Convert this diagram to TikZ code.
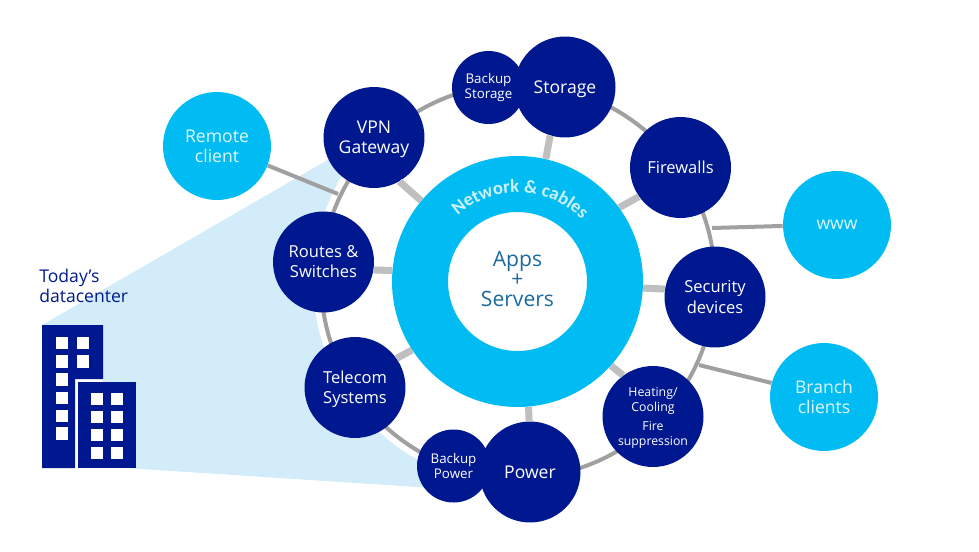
\documentclass[tikz,border=0pt]{standalone}
\usepackage{fontspec}
\setmainfont{Open Sans}
\newfontfamily\ringfont{Carlito}
\usetikzlibrary{calc, decorations.text}
\definecolor{navyblue}{HTML}{00188F}
\definecolor{cyanblue}{HTML}{00BCF2}
\definecolor{wedgeblue}{HTML}{D2ECF9}
\definecolor{ringgray}{HTML}{A0A0A0}
\definecolor{spokegray}{HTML}{BFBFBF}
\definecolor{appsblue}{HTML}{1C6A9C}
\begin{document}
\begin{tikzpicture}[
    x=0.02cm, y=-0.02cm,
    hub/.style={circle, inner sep=0pt, align=center, text=white, fill=navyblue, minimum size=2.02cm},
    smallhub/.style={hub, minimum size=1.46cm, font=\fontsize{7.6}{9}\selectfont},
    site/.style={hub, fill=cyanblue, text=white!88!cyanblue, minimum size=2.16cm},
    big/.style={font=\fontsize{10}{11.4}\selectfont},
    mid/.style={font=\fontsize{9.4}{11.4}\selectfont},
    lowtext/.style={text depth=0pt},
    spoke/.style={line width=0.14cm, spokegray},
    link/.style={line width=0.08cm, ringgray},
    window/.style={rectangle, inner sep=0pt, fill=white, minimum size=0.245cm}
]
\useasboundingbox (0,0) rectangle (979,551);

% Wedge to the datacenter
\fill[wedgeblue] (42,325) -- (350,147) -- (518,281) -- (440,488.5) -- (42,462.5) -- cycle;
\fill[white] (518,281) circle (4.1cm);

% Ring and spokes
\node[circle, inner sep=0pt, minimum size=5.02cm] (ring) at (517.5,281.5) {};
\node[circle, inner sep=0pt, minimum size=2.78cm] (core) at (517.5,281.5) {};
\draw[link] (518,281) circle (3.94cm);

% Nodes around the ring
\node[hub, big, lowtext] (storage) at (565,87) {Storage};
\node[smallhub] (backupstorage) at (488.5,87.5) {Backup\\Storage};
\node[hub, big, lowtext] (vpn) at (374,137.5) {VPN\\Gateway};
\node[hub, mid] (firewalls) at (680.5,167.5) {Firewalls};
\node[hub, mid] (routes) at (323.5,262) {Routes \&\\Switches};
\node[hub, mid] (security) at (715,297) {Security\\devices};
\node[hub, mid, lowtext] (telecom) at (355,387.5) {Telecom\\Systems};
\node[hub, lowtext, font=\fontsize{7}{8.2}\selectfont] (heating) at (653,416.5) {Heating/\\Cooling\\[3pt]Fire\\suppression};
\node[hub, big] (power) at (530,472) {Power};
\node[smallhub] (backuppower) at (453.5,466) {Backup\\Power};

% Outside sites
\node[site, big] (remote) at (217,146) {Remote\\client};
\node[site, big] (www) at (837,225) {www};
\node[site, big] (branch) at (824,397) {Branch\\clients};
\coordinate (remotejoin) at (338,194);
\coordinate (wwwjoin) at (712,228);
\coordinate (branchjoin) at (699,365);

% Spokes
\draw[spoke] (vpn.-60) -- (ring.140);
\draw[spoke] (storage.-107) -- (ring.77);
\draw[spoke] (firewalls.-145) -- (ring.36);
\draw[spoke] (security.171) -- (ring.-3);
\draw[spoke] (heating.126) -- (ring.-42);
\draw[spoke] (power.91) -- (ring.-85);
\draw[spoke] (telecom.35) -- (ring.-147);
\draw[spoke] (routes.-9) -- (ring.175);

% Links to the outside
\draw[link] (remote.-21) -- (remotejoin);
\draw[link] (www.181) -- (wwwjoin);
\draw[link] (branch.165) -- (branchjoin);

% Central ring
\fill[cyanblue, even odd rule] (ring) circle (2.51cm) (core) circle (1.39cm);
\path[decorate, decoration={text along path, text align=center,
    text={|\fontsize{10.6}{12}\ringfont\bfseries\color{white!80!cyanblue}|Network {\&} cables}}]
    ($(ring)+(147:1.78cm)$) arc (147:29:1.78cm);
\node[align=center, text=appsblue, font=\fontsize{12}{11.4}\selectfont] (apps) at (517.5,279) {Apps\\+\\Servers};

% Building
\fill[white] (75,379) rectangle (103,468);
\fill[navyblue] (42,325) -- (103,325) -- (103,379) -- (75,379) -- (75,468) -- (42,468) -- cycle;
\fill[navyblue] (78,382) rectangle (136,468);
\foreach \y in {343, 361.5, 379.5, 398, 416, 433.5} {
    \node[window] at (62,\y) {};
}
\foreach \y in {343, 361.5} {
    \node[window] at (83,\y) {};
}
\foreach \x in {97, 117} {
    \foreach \y in {399, 417, 435, 453} {
        \node[window, minimum size=0.235cm] at (\x,\y) {};
    }
}
\node[align=left, anchor=north west, inner sep=0pt, text=navyblue, big] (today) at (39,269) {Today’s\\datacenter};
\end{tikzpicture}
\end{document}
